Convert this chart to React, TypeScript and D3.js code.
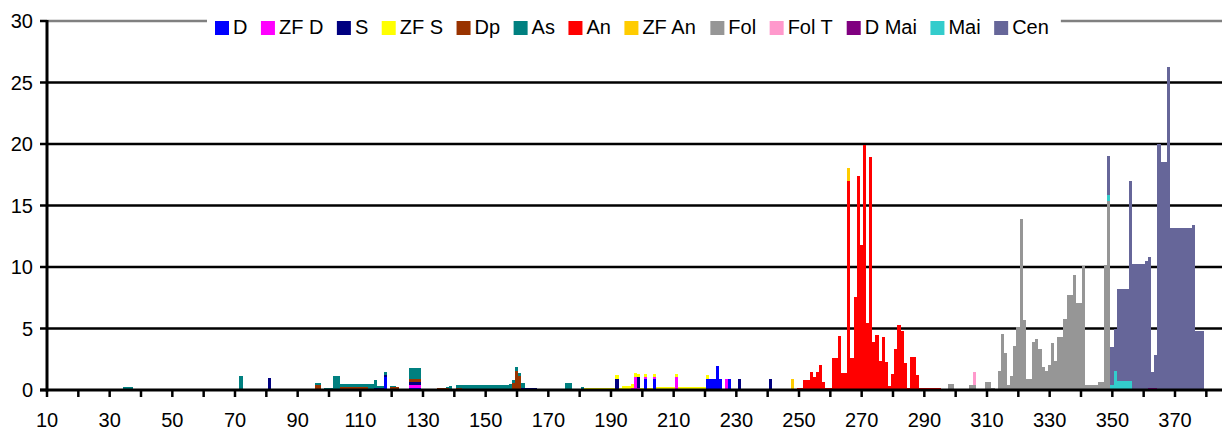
import React from "react";
import * as d3 from "d3";

// ---------------- DATA ----------------
const seriesNames = ["D", "ZF D", "S", "ZF S", "Dp", "As", "An", "ZF An", "Fol", "Fol T", "D Mai", "Mai", "Cen"];
const seriesColors = ["#0000FF", "#FF00FF", "#000080", "#FFFF00", "#993300", "#008080", "#FF0000", "#FFCC00", "#969696", "#FF99CC", "#800080", "#33CCCC", "#666699"];

const xDomain = [10, 385];
const xTickMarks = [10, 20, 30, 40, 50, 60, 70, 80, 90, 100, 110, 120, 130, 140, 150, 160, 170, 180, 190, 200, 210, 220, 230, 240, 250, 260, 270, 280, 290, 300, 310, 320, 330, 340, 350, 360, 370, 380];
const xTickLabels = [10, 30, 50, 70, 90, 110, 130, 150, 170, 190, 210, 230, 250, 270, 290, 310, 330, 350, 370];
const yTicks = [0, 5, 10, 15, 20, 25, 30];

// [category, value]
const D: [number, number][] = [
  [118, 1.03], [126, 0.16], [127, 0.16], [128, 0.16], [129, 0.16], [201, 0.87], [204, 0.87],
  [221, 0.87], [222, 0.87], [223, 0.87], [224, 1.93], [225, 0.87], [228, 0.87],
];
const ZF_D: [number, number][] = [
  [126, 0.22], [127, 0.22], [128, 0.22], [129, 0.22], [197, 0.15], [198, 1.03], [199, 0.15],
  [201, 0.16], [204, 0.16], [211, 1.03], [227, 0.87],
];
const S: [number, number][] = [
  [81, 1.0], [115, 0.14], [116, 0.14], [117, 0.14], [118, 0.16], [126, 0.24], [127, 0.24], [128, 0.24], [129, 0.24],
  [162, 0.15], [163, 0.2], [164, 0.2], [165, 0.2], [166, 0.2], [192, 0.87], [194, 0.08], [195, 0.08], [199, 0.87],
  [231, 0.87], [241, 0.87],
];
const ZF_S: [number, number][] = [
  [181, 0.12], [182, 0.14], [183, 0.14], [184, 0.14], [185, 0.14], [186, 0.14], [187, 0.14], [188, 0.14],
  [189, 0.14], [190, 0.14], [191, 0.14], [192, 0.33], [193, 0.14], [194, 0.22], [195, 0.22], [196, 0.3],
  [197, 0.35], [198, 0.33], [199, 0.25], [200, 0.2], [201, 0.25], [202, 0.2], [203, 0.2], [204, 0.25],
  [205, 0.22], [206, 0.22], [207, 0.22], [208, 0.22], [209, 0.22], [210, 0.22], [211, 0.25], [212, 0.22],
  [213, 0.22], [214, 0.22], [215, 0.22], [216, 0.22], [217, 0.22], [218, 0.22], [219, 0.22], [220, 0.22], [221, 0.33],
];
const Dp: [number, number][] = [
  [96, 0.43], [97, 0.43], [104, 0.25], [105, 0.25], [106, 0.25], [107, 0.25], [108, 0.25], [109, 0.25],
  [110, 0.25], [111, 0.25], [112, 0.25], [120, 0.25], [121, 0.25], [122, 0.25], [126, 0.24], [127, 0.24],
  [128, 0.24], [129, 0.24], [135, 0.14], [136, 0.14], [137, 0.14], [138, 0.14], [141, 0.14], [142, 0.14],
  [159, 0.6], [160, 1.55], [161, 1.15],
];
const As: [number, number][] = [
  [35, 0.27], [36, 0.27], [37, 0.27],
  [42, 0.12], [43, 0.12], [44, 0.12], [45, 0.12], [46, 0.12], [47, 0.12], [48, 0.12], [49, 0.12], [50, 0.12],
  [51, 0.12], [52, 0.12], [53, 0.12], [54, 0.12],
  [63, 0.12], [64, 0.12], [65, 0.12], [66, 0.12], [67, 0.12], [68, 0.12], [69, 0.12], [70, 0.12], [71, 0.12],
  [72, 1.1], [73, 0.12], [74, 0.12], [75, 0.12], [76, 0.12], [77, 0.12], [78, 0.12], [79, 0.12], [80, 0.12],
  [96, 0.17], [97, 0.17], [99, 0.2], [100, 0.2], [101, 0.2], [102, 1.17], [103, 1.17],
  [104, 0.25], [105, 0.25], [106, 0.25], [107, 0.25], [108, 0.25], [109, 0.25], [110, 0.25], [111, 0.25], [112, 0.25],
  [113, 0.5], [114, 0.5], [115, 0.65], [116, 0.16], [117, 0.16], [118, 0.24], [120, 0.08], [121, 0.08],
  [126, 0.9], [127, 0.9], [128, 0.9], [129, 0.9], [135, 0.05], [136, 0.05], [137, 0.05], [138, 0.08], [139, 0.3],
  [141, 0.25], [142, 0.24], [143, 0.38], [144, 0.38], [145, 0.38], [146, 0.38], [147, 0.38], [148, 0.38],
  [149, 0.38], [150, 0.38], [151, 0.38], [152, 0.38], [153, 0.38], [154, 0.38], [155, 0.38], [156, 0.38],
  [157, 0.38], [158, 0.45], [159, 0.25], [160, 0.3], [161, 0.2], [162, 0.42], [176, 0.55], [177, 0.55], [181, 0.1],
];
const An: [number, number][] = [
  [250, 0.15], [251, 0.15], [252, 0.81], [253, 0.81], [254, 1.44], [255, 1.03], [256, 1.44], [257, 2.0],
  [258, 0.62], [259, 0.16], [260, 0.16], [261, 2.58], [262, 2.58], [263, 4.37], [264, 1.36], [265, 1.36],
  [266, 17.0], [267, 2.58], [268, 7.54], [269, 17.39], [270, 11.77], [271, 19.91], [272, 5.45], [273, 18.93],
  [274, 3.88], [275, 4.45], [276, 2.33], [277, 4.29], [278, 2.25], [279, 0.3], [280, 1.27], [281, 3.31],
  [282, 5.26], [283, 4.77], [284, 2.17], [285, 0.14], [286, 2.66], [287, 2.66], [288, 1.19], [289, 0.16],
  [290, 0.16], [291, 0.16], [292, 0.16], [293, 0.16], [294, 0.16], [295, 0.16],
];
const ZF_An: [number, number][] = [[248, 0.87], [266, 1.05]];
const Fol: [number, number][] = [
  [298, 0.46], [299, 0.46], [305, 0.43], [306, 0.43], [310, 0.68], [311, 0.68], [312, 0.19], [314, 1.57],
  [315, 4.58], [316, 3.04], [317, 0.41], [318, 1.17], [319, 3.61], [320, 5.15], [321, 13.94], [322, 5.72],
  [323, 0.92], [324, 0.92], [325, 3.93], [326, 4.18], [327, 3.36], [328, 1.9], [329, 1.57], [330, 2.03],
  [331, 3.85], [332, 2.36], [333, 4.34], [334, 4.34], [335, 5.8], [336, 7.76], [337, 7.76], [338, 9.38],
  [339, 7.1], [340, 7.1], [341, 10.12], [342, 0.44], [343, 0.44], [344, 0.44], [345, 0.44], [346, 0.68],
  [347, 0.68], [348, 10.2], [349, 15.4],
];
const Fol_T: [number, number][] = [[306, 1.03]];
const D_Mai: [number, number][] = [[362, 0.2], [363, 0.2], [364, 0.2]];
const Mai: [number, number][] = [
  [349, 0.49], [350, 0.41], [351, 1.55], [352, 0.73], [353, 0.73], [354, 0.73], [355, 0.73], [356, 0.73],
];
const Cen: [number, number][] = [
  [349, 3.17], [350, 3.12], [351, 3.4], [352, 7.52], [353, 7.52], [354, 7.52], [355, 7.52], [356, 16.3],
  [357, 10.28], [358, 10.28], [359, 10.28], [360, 10.28], [361, 10.52], [362, 10.65], [363, 1.25], [364, 2.67],
  [365, 19.96], [366, 18.5], [367, 18.5], [368, 26.3], [369, 13.2], [370, 13.2], [371, 13.2], [372, 13.2],
  [373, 13.2], [374, 13.2], [375, 13.2], [376, 13.45], [377, 4.83], [378, 4.83], [379, 4.83],
];

const seriesData = [D, ZF_D, S, ZF_S, Dp, As, An, ZF_An, Fol, Fol_T, D_Mai, Mai, Cen];

// ---------------- LAYOUT ----------------
const W = 1224;
const H = 431;
const plotLeft = 47;
const plotRight = 1222;
const plotTop = 21;
const plotBottom = 390;
const FONT = '"Liberation Sans", Arial, sans-serif';

function measure(text: string, size: number): number {
  if (typeof document === "undefined") return text.length * size * 0.55;
  const c = document.createElement("canvas");
  const ctx = c.getContext("2d");
  if (!ctx) return text.length * size * 0.55;
  ctx.font = `${size}px "Liberation Sans", Arial, sans-serif`;
  return ctx.measureText(text).width;
}

export default function App() {
  const x = d3.scaleLinear().domain(xDomain).range([plotLeft, plotRight]);
  const y = d3.scaleLinear().domain([0, 30]).range([plotBottom, plotTop]);

  // build table
  const cats = Array.from(new Set(seriesData.flatMap((s) => s.map((d) => d[0])))).sort((a, b) => a - b);
  const table = cats.map((c) => {
    const row: any = { cat: c };
    seriesNames.forEach((n, i) => {
      const f = seriesData[i].find((d) => d[0] === c);
      row[n] = f ? f[1] : 0;
    });
    return row;
  });
  const stacked = d3.stack().keys(seriesNames)(table as any);

  // legend layout
  const legFont = 20;
  const sq = 14;
  const gap = 13.5;
  let lx = 215;
  const legendItems = seriesNames.map((n, i) => {
    const item = { name: n, color: seriesColors[i], x: lx };
    lx += sq + 4 + measure(n, legFont) + gap;
    return item;
  });
  const legendEnd = lx - gap + 12;

  return (
    <svg
      width={W}
      height={H}
      style={{ position: "absolute", left: 0, top: 0, display: "block", background: "#fff" }}
      fontFamily={FONT}
    >
      {/* gridlines */}
      {yTicks.filter((t) => t > 0).map((t) => (
        <line
          key={"g" + t}
          x1={plotLeft}
          x2={plotRight}
          y1={y(t)}
          y2={y(t)}
          stroke={t === 30 ? "#808080" : "#000"}
          strokeWidth={2.5}
        />
      ))}

      {/* bars */}
      {stacked.map((layer, i) =>
        layer.map((seg: any, j: number) => {
          const v = seg[1] - seg[0];
          if (v <= 0) return null;
          const c = seg.data.cat;
          const x0 = x(c - 0.6);
          const x1 = x(c + 0.4);
          return (
            <rect
              key={i + "-" + j}
              x={x0}
              width={x1 - x0}
              y={y(seg[1])}
              height={y(seg[0]) - y(seg[1])}
              fill={seriesColors[i]}
              shapeRendering="crispEdges"
            />
          );
        })
      )}

      {/* legend */}
      <rect x={207} y={11} width={legendEnd - 207} height={32} fill="#fff" />
      {legendItems.map((it) => (
        <g key={it.name}>
          <rect x={it.x} y={21} width={sq} height={sq} fill={it.color} />
          <text x={it.x + sq + 4} y={34} fontSize={legFont} fill="#000">
            {it.name}
          </text>
        </g>
      ))}

      {/* y axis */}
      <line x1={plotLeft} x2={plotLeft} y1={plotTop - 1} y2={plotBottom + 1.5} stroke="#000" strokeWidth={3} />
      {yTicks.map((t) => (
        <g key={"y" + t}>
          <line x1={plotLeft - 7} x2={plotLeft} y1={y(t)} y2={y(t)} stroke="#000" strokeWidth={2.5} />
          <text x={33} y={y(t) + 7} textAnchor="end" fontSize={20} fill="#000">
            {t}
          </text>
        </g>
      ))}

      {/* x axis */}
      <line x1={plotLeft - 7} x2={plotRight} y1={plotBottom} y2={plotBottom} stroke="#000" strokeWidth={3} />
      {xTickMarks.map((t) => (
        <line key={"xt" + t} x1={x(t)} x2={x(t)} y1={plotBottom} y2={plotBottom + 7} stroke="#000" strokeWidth={2.5} />
      ))}
      {xTickLabels.map((t) => (
        <text key={"xl" + t} x={x(t)} y={427} textAnchor="middle" fontSize={20} fill="#000">
          {t}
        </text>
      ))}
    </svg>
  );
}
